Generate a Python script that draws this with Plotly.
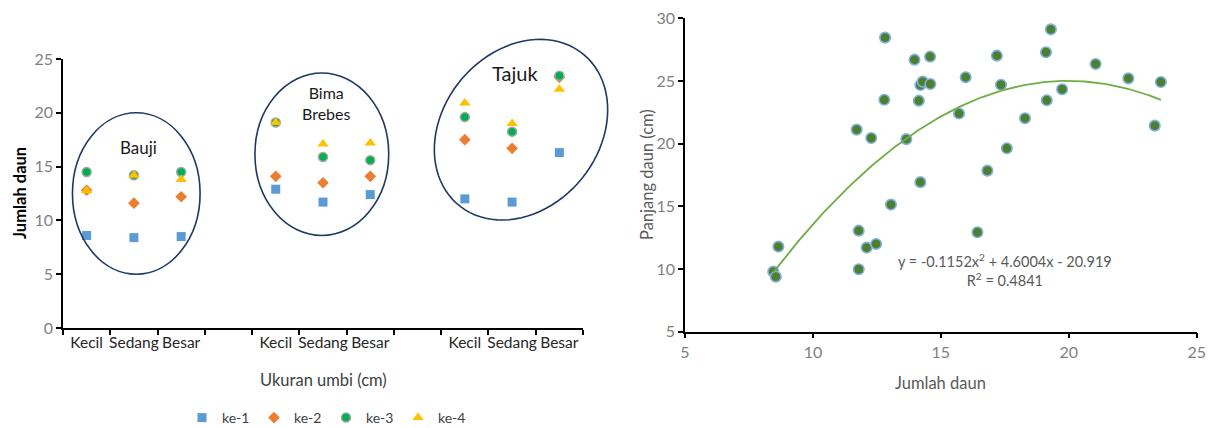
import numpy as np
import plotly.graph_objects as go

FONT = "Lato, sans-serif"

# ---------------- Left chart data ----------------
cat_pos = [0, 1, 2, 4, 5, 6, 8, 9, 10]          # positions of filled categories
cat_text = ["Kecil", "Sedang", "Besar"] * 3
groups = ["Bauji", "Bima<br>Brebes", "Tajuk"]

ke1 = [8.6, 8.4, 8.5, 12.9, 11.7, 12.4, 12.0, 11.7, 16.3]
ke2 = [12.8, 11.6, 12.2, 14.1, 13.5, 14.1, 17.5, 16.7, 23.3]
ke3 = [14.5, 14.2, 14.5, 19.1, 15.9, 15.6, 19.6, 18.25, 23.45]
ke4 = [12.75, 14.2, 13.8, 19.1, 17.1, 17.2, 20.9, 19.0, 22.2]

# ---------------- Right chart data ----------------
jumlah = [8.45, 8.55, 8.65, 11.71, 11.79, 11.79, 12.1, 12.28, 12.47, 12.79, 12.82, 13.05,
          13.65, 13.97, 14.14, 14.2, 14.2, 14.29, 14.59, 14.58, 15.71, 15.97, 16.43, 16.82,
          17.19, 17.35, 17.58, 18.29, 19.11, 19.14, 19.3, 19.74, 21.05, 22.33, 23.36, 23.6]
panjang = [9.79, 9.39, 11.79, 21.12, 13.06, 9.98, 11.71, 20.45, 12.0, 23.5, 28.46, 15.14,
           20.36, 26.7, 23.43, 16.93, 24.68, 24.95, 24.76, 26.94, 22.4, 25.3, 12.93, 17.85,
           27.02, 24.7, 19.63, 22.03, 27.29, 23.46, 29.12, 24.34, 26.36, 25.21, 21.44, 24.92]
coef_a, coef_b, coef_c = -0.1152, 4.6004, -20.919

# ---------------- Layout geometry ----------------
OFF = 8                      # page body margin
W, H = 1214 - OFF, 428 - OFF


def PX(p):
    return (p - OFF) / W


def PY(p):
    return (H - (p - OFF)) / H


L_dom_x = [PX(63), PX(583)]
L_dom_y = [PY(328), PY(59)]
L_rng_x = [-0.5, 10.5]
L_rng_y = [0, 25]
R_dom_x = [PX(685), PX(1196.7)]
R_dom_y = [PY(331.7), PY(18.3)]


def lpaper(xv, yv):
    px = L_dom_x[0] + (xv - L_rng_x[0]) / (L_rng_x[1] - L_rng_x[0]) * (L_dom_x[1] - L_dom_x[0])
    py = L_dom_y[0] + (yv - L_rng_y[0]) / (L_rng_y[1] - L_rng_y[0]) * (L_dom_y[1] - L_dom_y[0])
    return px, py


fig = go.Figure()

series = [
    ("ke-1", ke1, "square", "#5B9BD5", 9, dict(width=0)),
    ("ke-2", ke2, "diamond", "#ED7D31", 9, dict(width=0)),
    ("ke-3", ke3, "circle", "#00B050", 9, dict(width=1.5, color="#A5A5A5")),
    ("ke-4", ke4, "triangle-up", "#FFC000", 10, dict(width=0)),
]
for name, vals, sym, col, sz, ln in series:
    fig.add_trace(go.Scatter(
        x=cat_pos, y=vals, mode="markers", name=name,
        marker=dict(symbol=sym, color=col, size=sz, line=ln),
        xaxis="x", yaxis="y", cliponaxis=False))

fig.add_trace(go.Scatter(
    x=jumlah, y=panjang, mode="markers", showlegend=False,
    marker=dict(symbol="circle", color="#4E7F2C", size=10.5, line=dict(width=1.6, color="#7FB2E5")),
    xaxis="x2", yaxis="y2", cliponaxis=False))

tx = np.linspace(min(jumlah), max(jumlah), 200)
ty = coef_a * tx ** 2 + coef_b * tx + coef_c
fig.add_trace(go.Scatter(
    x=tx, y=ty, mode="lines", showlegend=False,
    line=dict(color="#70AD47", width=1.8), xaxis="x2", yaxis="y2"))

# ellipses around groups (data units converted to paper)
ellipses = [(-0.3, 2.4, 5.0, 20.0), (3.56, 6.39, 8.6, 23.7)]
for x0, x1, y0, y1 in ellipses:
    px0, py0 = lpaper(x0, y0)
    px1, py1 = lpaper(x1, y1)
    fig.add_shape(type="circle", xref="paper", yref="paper", x0=px0, x1=px1, y0=py0, y1=py1,
                  line=dict(color="#1F3864", width=1.6), layer="above")

# tilted ellipse around Tajuk group (pixel geometry -> paper)
cx, cy, ra, rb, alpha = 521.0, 129.7, 97.9, 78.0, np.radians(50.3)
phi = np.linspace(0, 2 * np.pi, 90)
ex = cx + ra * np.cos(phi) * np.cos(alpha) + rb * np.sin(phi) * np.sin(alpha)
ey = cy - ra * np.cos(phi) * np.sin(alpha) + rb * np.sin(phi) * np.cos(alpha)
path = "M " + " L ".join(f"{PX(a):.5f},{PY(b):.5f}" for a, b in zip(ex, ey)) + " Z"
fig.add_shape(type="path", xref="paper", yref="paper", path=path,
              line=dict(color="#1F3864", width=1.6), layer="above")

group_pos = [(1.1, 16.8), (5.08, 20.9), (9.06, 23.7)]
group_size = [17, 16, 20]
for g, (gx, gy), gs in zip(groups, group_pos, group_size):
    fig.add_annotation(x=gx, y=gy, xref="x", yref="y", text=g, showarrow=False,
                       font=dict(family=FONT, size=gs, color="#1A1A1A"))

fig.add_annotation(x=(L_dom_x[0] + L_dom_x[1]) / 2, y=PY(380), xref="paper", yref="paper",
                   text="Ukuran umbi (cm)", showarrow=False, xanchor="center", yanchor="middle",
                   font=dict(family=FONT, size=16.5, color="#404040"))
fig.add_annotation(x=PX(20), y=PY(193), xref="paper", yref="paper", textangle=-90,
                   text="<b>Jumlah daun</b>", showarrow=False, xanchor="center", yanchor="middle",
                   font=dict(family=FONT, size=16.5, color="#000000"))
fig.add_annotation(x=PX(647), y=PY(175), xref="paper", yref="paper", textangle=-90,
                   text="Panjang daun (cm)", showarrow=False, xanchor="center", yanchor="middle",
                   font=dict(family=FONT, size=16.5, color="#595959"))
fig.add_annotation(x=(R_dom_x[0] + R_dom_x[1]) / 2, y=PY(383), xref="paper", yref="paper",
                   text="Jumlah daun", showarrow=False, xanchor="center", yanchor="middle",
                   font=dict(family=FONT, size=16.5, color="#595959"))
fig.add_annotation(x=PX(1005), y=PY(270), xref="paper", yref="paper",
                   text="y = -0.1152x<sup>2</sup> + 4.6004x - 20.919<br>R<sup>2</sup> = 0.4841",
                   showarrow=False, align="center", xanchor="center", yanchor="middle",
                   font=dict(family=FONT, size=14.5, color="#595959"))

tickfont_gray = dict(family=FONT, size=16, color="#7F7F7F")
common = dict(showgrid=False, zeroline=False, showline=True, linecolor="black", linewidth=1.5,
              automargin=False, ticklabeloverflow="allow")
fig.update_layout(
    width=W, height=H, margin=dict(l=0, r=0, t=0, b=0, pad=0, autoexpand=False),
    paper_bgcolor="white", plot_bgcolor="white",
    font=dict(family=FONT),
    xaxis=dict(domain=L_dom_x, range=L_rng_x, tickmode="array", tickvals=cat_pos, ticktext=cat_text,
               ticks="", tickangle=0, tickfont=dict(family=FONT, size=15.5, color="#262626"), anchor="y",
               minor=dict(tickmode="array", tickvals=[-0.5 + i for i in range(12)], ticks="outside",
                          ticklen=5, tickcolor="black", tickwidth=1.5, showgrid=False), **common),
    yaxis=dict(domain=L_dom_y, range=L_rng_y, dtick=5, ticks="outside", ticklen=5, tickwidth=1.5,
               tickcolor="black", tickfont=tickfont_gray, anchor="x", **common),
    xaxis2=dict(domain=R_dom_x, range=[5, 25], dtick=5, ticks="outside", ticklen=5, tickwidth=1.5,
                tickcolor="black", tickfont=tickfont_gray, anchor="y2", **common),
    yaxis2=dict(domain=R_dom_y, range=[5, 30], dtick=5, ticks="outside", ticklen=5, tickwidth=1.5,
                tickcolor="black", tickfont=tickfont_gray, anchor="x2", **common),
    legend=dict(orientation="h", x=PX(326), xanchor="center", y=PY(418), yanchor="middle",
                font=dict(family=FONT, size=14, color="#404040"), itemwidth=30,
                entrywidth=27, entrywidthmode="pixels",
                bgcolor="rgba(0,0,0,0)"),
)

fig.write_html("out.html")
